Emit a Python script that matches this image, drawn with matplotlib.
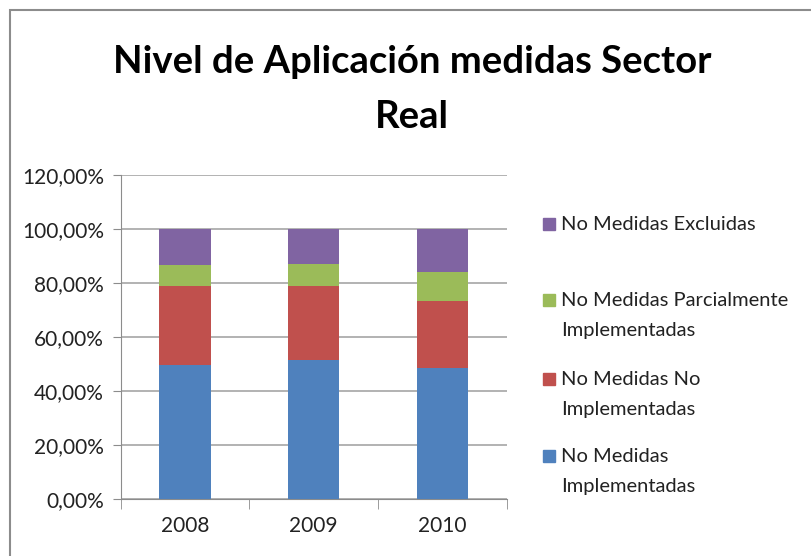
import matplotlib.pyplot as plt
from matplotlib.patches import Rectangle
import numpy as np

years = ["2008", "2009", "2010"]
implementadas = [49.6, 51.6, 48.6]
no_implementadas = [29.3, 27.3, 24.8]
parciales = [7.7, 8.2, 10.8]
excluidas = [13.4, 12.9, 15.8]

series = [
    ("No Medidas\nImplementadas", implementadas, "#4F81BD"),
    ("No Medidas No\nImplementadas", no_implementadas, "#C0504D"),
    ("No Medidas Parcialmente\nImplementadas", parciales, "#9BBB59"),
    ("No Medidas Excluidas", excluidas, "#8064A2"),
]
yticks = [0, 20, 40, 60, 80, 100, 120]
ytick_labels = ["0,00%", "20,00%", "40,00%", "60,00%", "80,00%", "100,00%", "120,00%"]

plt.rcParams['font.family'] = ['Lato', 'DejaVu Sans']

W, H = 812, 556
fig = plt.figure(figsize=(W / 100, H / 100), dpi=100)
ax = fig.add_axes([120.7 / W, 1 - 499.3 / H, (506.7 - 120.7) / W, (499.3 - 175) / H])

# outer chart frame
fig.patches.append(Rectangle((10 / W, -0.05), 1.1, 1 - 10 / H + 0.05, transform=fig.transFigure,
                             fill=False, edgecolor="#8C8C8C", linewidth=1.5))

x = np.arange(len(years))
bottom = np.zeros(len(years))
for label, vals, color in series:
    ax.bar(x, vals, 0.4, bottom=bottom, color=color, zorder=3)
    bottom += np.array(vals)

ax.set_xlim(-0.5, 2.5)
ax.set_ylim(0, 120)
ax.set_yticks(yticks)
ax.set_yticklabels(ytick_labels)
ax.set_xticks(x)
ax.set_xticklabels(years)
ax.set_xticks([-0.5, 0.5, 1.5, 2.5], minor=True)
ax.tick_params(axis='x', which='major', length=0, labelsize=15, pad=12, colors="#222222")
ax.tick_params(axis='x', which='minor', length=7, color="#8C8C8C")
ax.tick_params(axis='y', length=6, color="#8C8C8C", labelsize=15, labelcolor="#222222", pad=6)
ax.yaxis.grid(True, color="#A6A6A6", linewidth=1.2, zorder=0)
for s in ["top", "right"]:
    ax.spines[s].set_visible(False)
for s in ["left", "bottom"]:
    ax.spines[s].set_color("#8C8C8C")

fig.text(412 / W, 1 - 62 / H, "Nivel de Aplicación medidas Sector", ha="center", va="center",
         fontsize=27.5, fontweight="bold")
fig.text(412 / W, 1 - 117 / H, "Real", ha="center", va="center", fontsize=27.5, fontweight="bold")

# legend, drawn Excel-style with the square next to the first line
legend_tops = [456, 379, 300, 224]
for (label, vals, color), ty in zip(series, legend_tops):
    fig.patches.append(Rectangle((543 / W, 1 - (ty + 6) / H), 12 / W, 12 / H,
                                 transform=fig.transFigure, color=color))
    fig.text(561 / W, 1 - (ty - 8) / H, label, ha="left", va="top", fontsize=14.5,
             color="#222222", linespacing=1.9)

fig.savefig("out.png", dpi=100)
